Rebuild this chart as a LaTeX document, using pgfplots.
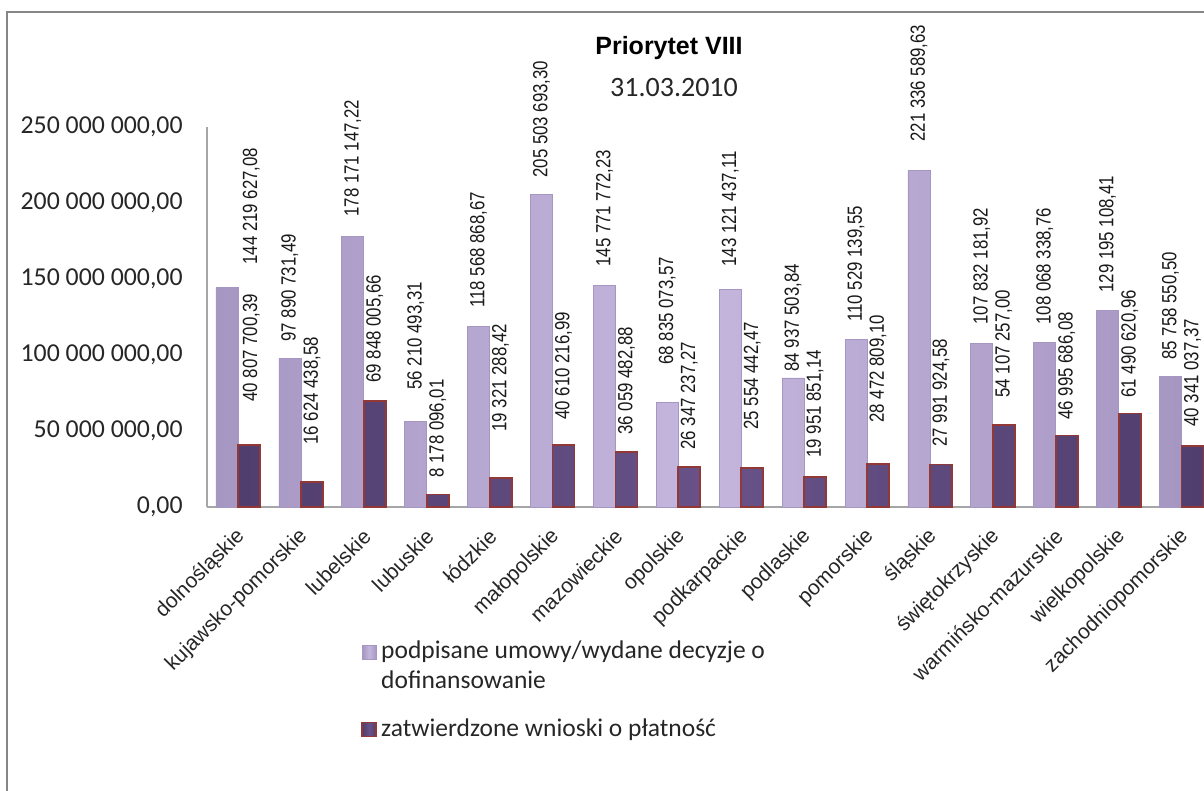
\documentclass[border=0pt]{standalone}
\usepackage{pgfplots}
\pgfplotsset{compat=1.18}
\usepackage{pgfplotstable}
\usepackage{fontspec}
\setmainfont{Carlito}
\newfontfamily\arial{Liberation Sans}
\newfontfamily\narrow[FakeStretch=0.82]{Liberation Sans}

\definecolor{lav}{RGB}{196,182,221}
\definecolor{lavE}{RGB}{166,150,194}
\definecolor{plum}{RGB}{104,82,136}
\definecolor{plumE}{RGB}{80,62,110}
\definecolor{redE}{RGB}{146,56,54}
\definecolor{framegray}{RGB}{134,134,134}

% values in millions
\pgfplotstableread{
x a b
0 144.21962708 40.80770039
1 97.89073149 16.62443858
2 178.17114722 69.84800566
3 56.21049331 8.17809601
4 118.56886867 19.32128842
5 205.50369330 40.61021699
6 145.77177223 36.05948288
7 68.83507357 26.34723727
8 143.12143711 25.55444247
9 84.93750384 19.95185114
10 110.52913955 28.47280910
11 221.33658963 27.99192458
12 107.83218192 54.10725700
13 108.06833876 46.99568608
14 129.19510841 61.49062096
15 85.75855050 40.34103737
}\bars

% where each value label starts
\pgfplotstableread[col sep=semicolon]{
x;y;lab
0.21;159.2;144 219 627,08
0.825;108.6;97 890 731,49
1.825;190.8;178 171 147,22
2.825;77.0;56 210 493,31
3.825;130.9;118 568 868,67
4.825;216.4;205 503 693,30
5.825;157.9;145 771 772,23
6.825;93.4;68 835 073,57
7.825;157.9;143 121 437,11
8.825;88.8;84 937 503,84
9.825;121.7;110 529 139,55
10.825;240.1;221 336 589,63
11.825;119.7;107 832 181,92
12.825;119.7;108 068 338,76
13.825;140.8;129 195 108,41
14.825;96.7;85 758 550,50
}\lightlab

\pgfplotstableread[col sep=semicolon]{
x;y;lab
0.21;69.1;40 807 700,39
1.175;40.8;16 624 438,58
2.175;81.6;69 848 005,66
3.175;19.1;8 178 096,01
4.175;49.3;19 321 288,42
5.175;57.2;40 610 216,99
6.175;47.4;36 059 482,88
7.175;37.5;26 347 237,27
8.175;50.7;25 554 442,47
9.175;32.2;19 951 851,14
10.175;55.3;28 472 809,10
11.175;39.5;27 991 924,58
12.175;71.7;54 107 257,00
13.175;57.2;46 995 686,08
14.175;71.7;61 490 620,96
15.175;52.6;40 341 037,37
}\darklab

\begin{document}
\begin{tikzpicture}
\useasboundingbox (0,0) rectangle (602pt,-395.5pt);
\draw[framegray, line width=1pt] (3.5pt,-400pt) -- (3.5pt,-6pt) -- (610pt,-6pt);

\begin{axis}[
  at={(103.5pt,-253.5pt)}, anchor=south west,
  scale only axis, width=503pt, height=190pt,
  xmin=-0.4928, xmax=15.5, ymin=0, ymax=250,
  axis x line*=bottom, axis y line*=left,
  axis line style={draw=black!35, line width=0.6pt},
  major tick length=0pt,
  xtick={0,...,15},
  xticklabels={dolnośląskie,kujawsko-pomorskie,lubelskie,lubuskie,łódzkie,małopolskie,mazowieckie,opolskie,podkarpackie,podlaskie,pomorskie,śląskie,świętokrzyskie,warmińsko-mazurskie,wielkopolskie,zachodniopomorskie},
  ytick={0,50,100,150,200,250},
  yticklabels={{0,00},{50 000 000,00},{100 000 000,00},{150 000 000,00},{200 000 000,00},{250 000 000,00}},
  xticklabel style={xshift=1.75pt, yshift=-13pt, rotate=45, anchor=east, inner sep=0pt,
    font=\arial\fontsize{10.5}{12}\selectfont, text=black!85},
  yticklabel style={xshift=-12pt, anchor=east, inner sep=0pt,
    font=\fontsize{12.9}{15}\selectfont, text=black!85},
  clip=false,
  legend style={at={(0.1531,-0.3395)}, anchor=north west, draw=none, fill=none,
    inner sep=0pt, row sep=10pt, font=\fontsize{12.75}{15}\selectfont, text=black!85,
    cells={align=left}},
  legend cell align=left,
  every node near coord/.append style={rotate=90, anchor=west, inner sep=0pt,
    font=\narrow\fontsize{10.25}{12}\selectfont, text=black!90},
]
\addplot[ybar, bar width=11pt, bar shift=-5.5pt, draw=lavE, line width=0.4pt,
  left color=lavE, right color=lavE, middle color=lav,
  legend image code/.code={\draw[draw=lavE, left color=lavE, right color=lavE, middle color=lav] (0pt,3pt) rectangle (7pt,10pt);}]
  table[x=x, y=a]{\bars};
\addlegendentry{podpisane umowy/wydane decyzje o\\dofinansowanie}
\addplot[ybar, bar width=11pt, bar shift=5.5pt, draw=redE, line width=0.9pt,
  left color=plumE, right color=plumE, middle color=plum,
  legend image code/.code={\draw[draw=redE, line width=0.9pt, left color=plumE, right color=plumE, middle color=plum] (0pt,-3.5pt) rectangle (7pt,3.5pt);}]
  table[x=x, y=b]{\bars};
\addlegendentry{zatwierdzone wnioski o płatność}

\addplot[draw=none, forget plot, nodes near coords, point meta=explicit symbolic]
  table[x=x, y=y, meta=lab]{\lightlab};
\addplot[draw=none, forget plot, nodes near coords, point meta=explicit symbolic]
  table[x=x, y=y, meta=lab]{\darklab};
\end{axis}

\node[font=\arial\bfseries\fontsize{12.5}{15}\selectfont, text=black] at (334.5pt,-24pt) {Priorytet VIII};
\node[font=\fontsize{14}{17}\selectfont, text=black!85] at (337pt,-44pt) {31.03.2010};
\end{tikzpicture}
\end{document}
